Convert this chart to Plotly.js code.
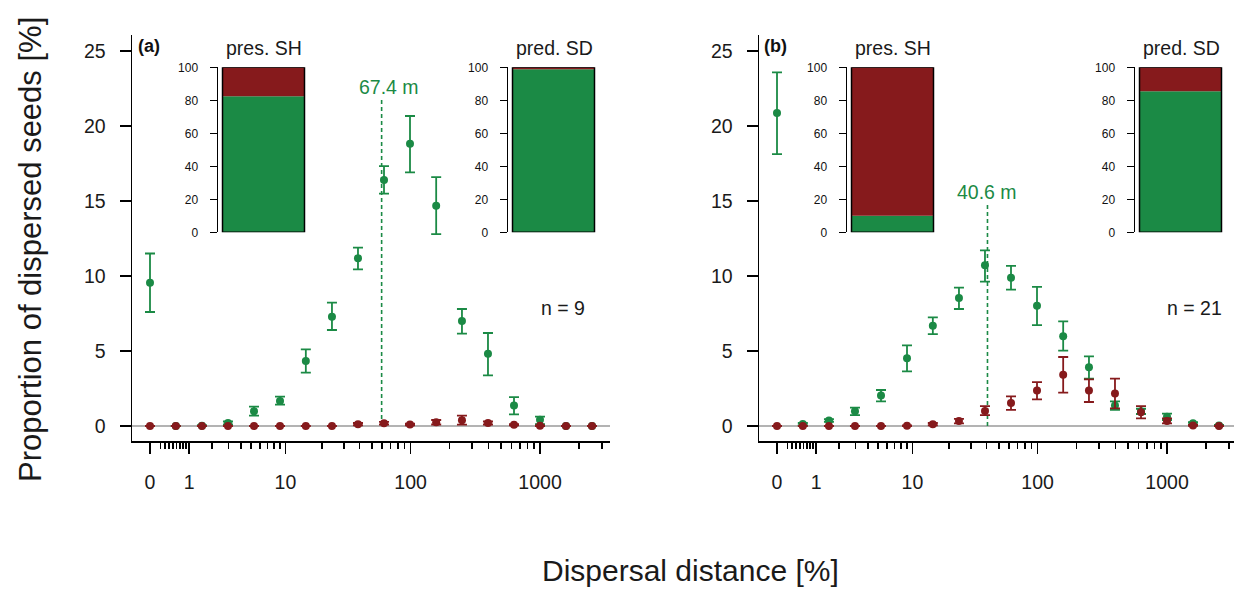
<!DOCTYPE html>
<html>
<head>
<meta charset="utf-8">
<script src="https://cdn.plot.ly/plotly-3.0.1.min.js"></script>
<style>html,body{margin:0;padding:0;background:#fff;}#chart{width:1234px;height:589px;}</style>
</head>
<body>
<div id="chart"></div>
<script>
// ---------- data ----------
const distances = [0, 0.58, 1.51, 2.98, 5.31, 9.0, 14.8, 24.1, 38.8, 62.1, 99.0, 158, 250, 397, 630, 999, 1584, 2511];

const aGreen   = [9.55, 0, 0.02, 0.2, 0.98, 1.67, 4.33, 7.29, 11.18, 16.4, 18.82, 14.69, 7.0, 4.82, 1.36, 0.42, 0, 0];
const aGreenHi = [11.5, 0, 0.05, 0.3, 1.29, 1.96, 5.11, 8.22, 11.89, 17.33, 20.67, 16.6, 7.8, 6.2, 1.93, 0.62, 0, 0];
const aGreenLo = [7.6, 0, 0, 0.1, 0.69, 1.42, 3.56, 6.4, 10.44, 15.5, 16.91, 12.8, 6.16, 3.38, 0.78, 0.13, 0, 0];
const aRed     = [0, 0, 0, 0, 0, 0, 0, 0, 0.12, 0.18, 0.1, 0.25, 0.38, 0.2, 0.08, 0.02, 0, 0];
const aRedHi   = [0, 0, 0, 0, 0, 0, 0, 0, 0.2, 0.27, 0.15, 0.4, 0.69, 0.3, 0.12, 0.04, 0, 0];
const aRedLo   = [0, 0, 0, 0, 0, 0, 0, 0, 0.05, 0.1, 0.05, 0.1, 0.09, 0.1, 0.04, 0, 0, 0];

const bGreen   = [20.87, 0.13, 0.36, 0.98, 2.04, 4.51, 6.69, 8.53, 10.71, 9.89, 8.02, 5.98, 3.91, 1.36, 0.98, 0.62, 0.18, 0.04];
const bGreenHi = [23.58, 0.2, 0.45, 1.22, 2.4, 5.38, 7.24, 9.22, 11.71, 10.67, 9.27, 6.98, 4.64, 1.64, 1.15, 0.82, 0.25, 0.07];
const bGreenLo = [18.13, 0.06, 0.27, 0.73, 1.64, 3.64, 6.13, 7.8, 9.62, 9.09, 6.73, 5.02, 3.16, 1.07, 0.8, 0.4, 0.1, 0.01];
const bRed     = [0, 0, 0, 0, 0, 0.02, 0.12, 0.33, 1.0, 1.53, 2.36, 3.42, 2.36, 2.16, 0.91, 0.33, 0.04, 0];
const bRedHi   = [0, 0, 0, 0, 0, 0.04, 0.2, 0.47, 1.33, 1.98, 2.93, 4.6, 3.11, 3.16, 1.33, 0.51, 0.08, 0];
const bRedLo   = [0, 0, 0, 0, 0, 0, 0.05, 0.18, 0.73, 1.07, 1.78, 2.22, 1.6, 1.18, 0.51, 0.18, 0.01, 0];

// inset shares [%]: green (seeds), red
const insetNames = ["pres. SH", "pred. SD", "pres. SH", "pred. SD"];
const insetGreen = [82.5, 98.8, 10, 85.5];
const insetRed   = [17.5, 1.2, 90, 14.5];

// median distance marks
const medianLabels = ["67.4 m", "40.6 m"];
const medianLabelPos = [67.4, 40.6];
const medianLinePos = [59.5, 40.6];
const medianLineTop = [21.9, 14.9];
const medianLabelY = [22.6, 15.6];

const nLabels = ["n = 9", "n = 21"];
const panelLabels = ["(a)", "(b)"];

const majorTicks = [0, 1, 10, 100, 1000];
const majorTickText = ["0", "1", "10", "100", "1000"];
const minorTicks = [0.2,0.3,0.4,0.5,0.6,0.7,0.8,0.9, 2,3,4,5,6,7,8,9, 20,30,40,50,60,70,80,90, 200,300,400,500,600,700,800,900, 2000,3000];
const yTicks = [0, 5, 10, 15, 20, 25];
const insetTicks = [0, 20, 40, 60, 80, 100];

// ---------- helpers ----------
const W = 1234, H = 589;
const GREEN = "#1b8a45", RED = "#861a1c";
const FONT = "Liberation Sans, Arial, Helvetica, sans-serif";
const tx = d => Math.log10(d + 1);
const px = v => v / W;
const py = v => 1 - v / H;

function errs(v, hi, lo) {
  return {
    plus: v.map((y, i) => (hi[i] === lo[i]) ? null : hi[i] - y),
    minus: v.map((y, i) => (hi[i] === lo[i]) ? null : y - lo[i])
  };
}

function series(v, hi, lo, color, xa, ya) {
  const e = errs(v, hi, lo);
  return {
    type: "scatter", mode: "markers",
    x: distances.map(tx), y: v,
    xaxis: xa, yaxis: ya,
    marker: {color: color, size: 8},
    error_y: {type: "data", symmetric: false, array: e.plus, arrayminus: e.minus,
              color: color, thickness: 1.8, width: 5},
    showlegend: false, hoverinfo: "skip"
  };
}

const traces = [
  series(aGreen, aGreenHi, aGreenLo, GREEN, "x", "y"),
  series(aRed, aRedHi, aRedLo, RED, "x", "y"),
  series(bGreen, bGreenHi, bGreenLo, GREEN, "x2", "y2"),
  series(bRed, bRedHi, bRedLo, RED, "x2", "y2")
];

// insets
const insetLeft = [218, 508, 847, 1135];
for (let k = 0; k < 4; k++) {
  const xa = "x" + (k + 3), ya = "y" + (k + 3);
  traces.push({type: "bar", x: [0], y: [insetGreen[k]], base: [0], width: [1], xaxis: xa, yaxis: ya,
    marker: {color: GREEN, line: {width: 0}}, showlegend: false, hoverinfo: "skip"});
  traces.push({type: "bar", x: [0], y: [insetRed[k]], base: [insetGreen[k]], width: [1], xaxis: xa, yaxis: ya,
    marker: {color: RED, line: {width: 0}}, showlegend: false, hoverinfo: "skip"});
  traces.push({type: "bar", x: [0], y: [insetGreen[k] + insetRed[k]], base: [0], width: [1], xaxis: xa, yaxis: ya,
    marker: {color: "rgba(0,0,0,0)", line: {width: 1.5, color: "#000"}}, showlegend: false, hoverinfo: "skip"});
}

const tickFont = {family: FONT, size: 19.5, color: "#1a1a1a"};

function mainX(domain, range) {
  return {
    domain: domain, range: range,
    showline: true, linecolor: "#000", linewidth: 1.5,
    ticks: "outside", ticklen: 11, tickwidth: 1.5, tickcolor: "#000",
    tickmode: "array", tickvals: majorTicks.map(tx), ticktext: majorTickText,
    minor: {tickmode: "array", tickvals: minorTicks.map(tx), ticks: "outside", ticklen: 6, tickwidth: 1.5, tickcolor: "#000", showgrid: false},
    showgrid: false, zeroline: false, tickfont: tickFont, ticklabelstandoff: 12, fixedrange: true
  };
}
function mainY(range) {
  return {
    domain: [py(441), py(35)], range: range,
    showline: true, linecolor: "#000", linewidth: 1.5,
    ticks: "outside", ticklen: 11, tickwidth: 1.5, tickcolor: "#000",
    tickmode: "array", tickvals: yTicks, ticktext: yTicks.map(String),
    showgrid: false, zeroline: false, tickfont: tickFont, ticklabelstandoff: 10, fixedrange: true
  };
}

const layout = {
  width: W, height: H,
  margin: {l: 0, r: 0, t: 0, b: 0},
  paper_bgcolor: "#fff", plot_bgcolor: "rgba(0,0,0,0)",
  barmode: "overlay",
  showlegend: false,
  font: {family: FONT, color: "#1a1a1a"},
  xaxis: Object.assign(mainX([px(132), px(610)], [-18 / 130, 460 / 130]), {anchor: "y"}),
  yaxis: Object.assign(mainY([-1, 26.07]), {anchor: "x"}),
  xaxis2: Object.assign(mainX([px(759), 1], [-18 / 130, (W - 759 - 18) / 130]), {anchor: "y2"}),
  yaxis2: Object.assign(mainY([-1, 26.07]), {anchor: "x2"}),
  shapes: [],
  annotations: []
};

for (let k = 0; k < 4; k++) {
  const L = insetLeft[k];
  layout["xaxis" + (k + 3)] = {domain: [px(L), px(L + 89)], range: [-0.555, 0.5305], visible: false,
    anchor: "y" + (k + 3), fixedrange: true};
  layout["yaxis" + (k + 3)] = {domain: [py(232.3), py(67.3)], range: [0, 100], anchor: "x" + (k + 3),
    showline: true, linecolor: "#000", linewidth: 1.5, ticks: "outside", ticklen: 7, tickwidth: 1.5,
    tickcolor: "#000", tickmode: "array", tickvals: insetTicks, ticktext: insetTicks.map(String),
    showgrid: false, zeroline: false, tickfont: {family: FONT, size: 12, color: "#111"},
    ticklabelstandoff: 9, fixedrange: true};
  layout.annotations.push({xref: "paper", yref: "paper", x: px(L + 46), y: py(48), text: insetNames[k],
    showarrow: false, xanchor: "center", yanchor: "middle", font: {family: FONT, size: 19.5, color: "#1a1a1a"}});
}

// zero lines, median lines
["x", "x2"].forEach((xa, k) => {
  const ya = k === 0 ? "y" : "y2";
  layout.shapes.push({type: "line", xref: xa + " domain", yref: ya, x0: 0, x1: 1, y0: 0, y1: 0,
    line: {color: "#9a9a9a", width: 1.5}, layer: "below"});
  layout.shapes.push({type: "line", xref: xa, yref: ya, x0: tx(medianLinePos[k]), x1: tx(medianLinePos[k]),
    y0: 0, y1: medianLineTop[k], line: {color: GREEN, width: 1.6, dash: "4px,3px"}, layer: "below"});
  layout.annotations.push({xref: xa, yref: ya, x: tx(medianLabelPos[k]), y: medianLabelY[k], text: medianLabels[k],
    showarrow: false, xanchor: "center", yanchor: "middle", font: {family: FONT, size: 19.5, color: GREEN}});
});

// panel labels and n
layout.annotations.push({xref: "paper", yref: "paper", x: px(136), y: py(46), text: "<b>" + panelLabels[0] + "</b>",
  showarrow: false, xanchor: "left", yanchor: "middle", font: {family: FONT, size: 18, color: "#111"}});
layout.annotations.push({xref: "paper", yref: "paper", x: px(762), y: py(46), text: "<b>" + panelLabels[1] + "</b>",
  showarrow: false, xanchor: "left", yanchor: "middle", font: {family: FONT, size: 18, color: "#111"}});
layout.annotations.push({xref: "paper", yref: "paper", x: px(563), y: py(308), text: nLabels[0],
  showarrow: false, xanchor: "center", yanchor: "middle", font: {family: FONT, size: 19.5, color: "#1a1a1a"}});
layout.annotations.push({xref: "paper", yref: "paper", x: px(1194), y: py(308), text: nLabels[1],
  showarrow: false, xanchor: "center", yanchor: "middle", font: {family: FONT, size: 19.5, color: "#1a1a1a"}});

// axis titles
layout.annotations.push({xref: "paper", yref: "paper", x: px(30), y: py(250), text: "Proportion of dispersed seeds [%]",
  textangle: -90, showarrow: false, xanchor: "center", yanchor: "middle", font: {family: FONT, size: 31, color: "#1a1a1a"}});
layout.annotations.push({xref: "paper", yref: "paper", x: px(690), y: py(570), text: "Dispersal distance [%]",
  showarrow: false, xanchor: "center", yanchor: "middle", font: {family: FONT, size: 30, color: "#1a1a1a"}});

Plotly.newPlot("chart", traces, layout, {staticPlot: true, displayModeBar: false});
</script>
</body>
</html>
